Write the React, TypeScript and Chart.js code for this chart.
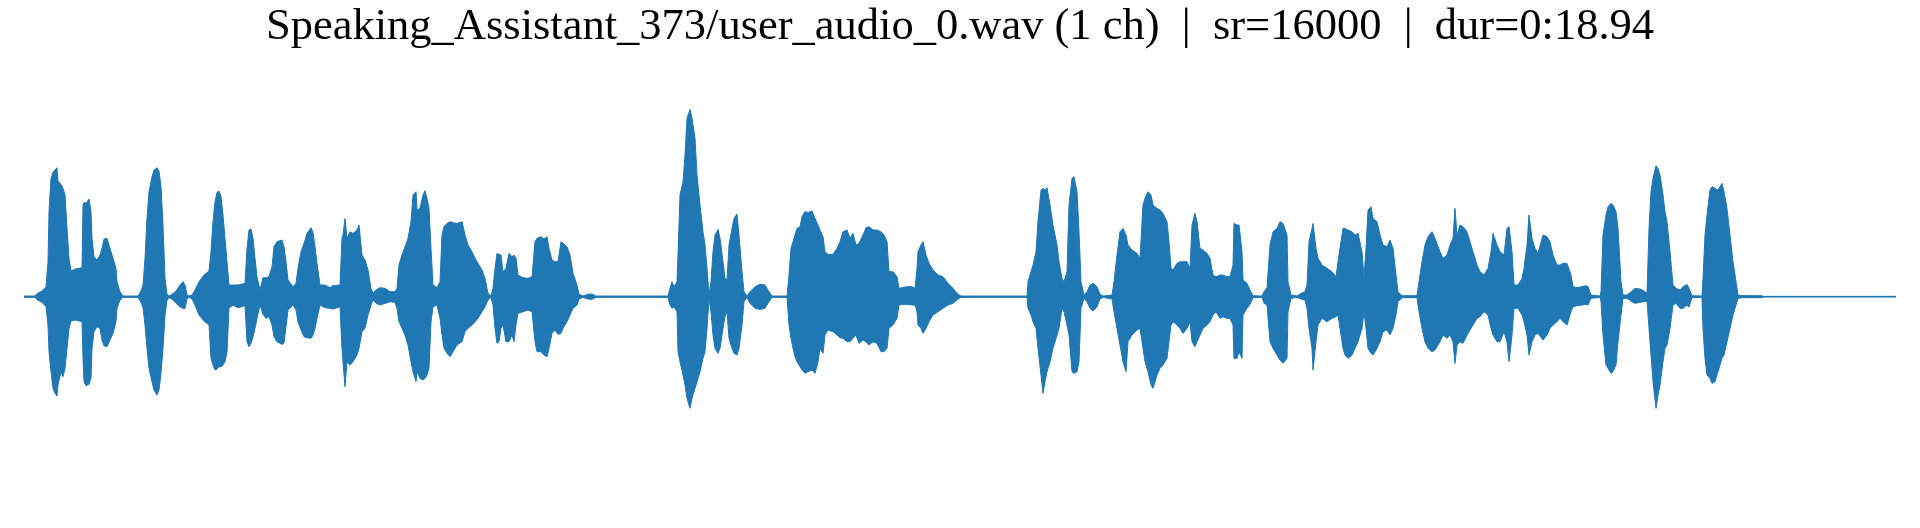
import { useEffect, useRef } from "react";
import { Chart, registerables } from "chart.js";

Chart.register(...registerables);

// Waveform envelope of Speaking_Assistant_373/user_audio_0.wav
// frame index (1 frame ≈ 10.12 ms, 1872 frames = 18.94 s), amplitude in arbitrary units
const TITLE = "Speaking_Assistant_373/user_audio_0.wav (1 ch)  |  sr=16000  |  dur=0:18.94";
const TOTAL_FRAMES = 1872;

const FRAMES = [
  0, 11, 13, 18, 22, 24, 25, 27, 29, 31, 33, 34, 37, 39, 41, 43, 45, 47, 51, 58, 59, 60, 62, 65, 67, 68, 70, 73, 76, 78,
  80, 83, 86, 89, 92, 93, 96, 99, 114, 117, 119, 121, 123, 125, 128, 130, 133, 135, 137, 139, 141, 143, 145, 148, 152,
  156, 159, 161, 163, 165, 168, 171, 175, 180, 185, 187, 189, 191, 193, 195, 197, 199, 201, 203, 205, 209, 214, 221,
  223, 225, 227, 229, 231, 233, 236, 239, 242, 245, 248, 250, 253, 258, 260, 262, 264, 269, 272, 274, 277, 280, 283,
  287, 289, 291, 293, 296, 301, 306,
  309, 316, 318, 319, 321, 323, 326, 329, 333, 335, 338, 341, 344, 347, 349, 352, 356, 361, 366, 371, 373, 375, 378,
  381, 384, 387, 389, 392, 393, 396, 399, 401, 403, 405, 407, 409, 413, 416, 418, 420, 423, 426, 429, 433, 438, 441,
  444, 448, 451, 454, 458, 461, 464, 467, 469, 471, 473, 475, 477, 479, 482, 484, 485, 488, 490, 492, 494, 499, 504,
  508, 511, 513, 517, 520, 523, 525, 528, 531, 534, 537, 539, 543, 546, 549, 553, 555, 559, 564, 568, 572,
  644, 646, 648, 650, 653, 654, 656, 659, 661, 663, 666, 668, 671, 673, 676, 679, 681, 683, 685, 687, 689, 691, 694,
  696, 699, 701, 703, 705, 708, 710, 713, 715, 718, 720, 723, 726, 731, 736, 741, 744, 748, 763, 765, 767, 769, 771,
  773, 776, 778, 781, 784, 788, 791, 794, 796, 799, 801, 804, 809, 813, 816, 819, 823, 826, 829, 832, 835, 839, 842,
  845, 849, 853, 857, 860, 863, 865, 869, 873, 875, 878, 883, 888, 891, 893, 894, 897, 899, 902, 905, 909, 914, 919,
  924, 929, 934, 937,
  1003, 1004, 1007, 1009, 1012, 1014, 1017, 1019, 1021, 1023, 1026, 1029, 1033, 1035, 1038, 1040, 1043, 1045, 1048,
  1050, 1053, 1055, 1057, 1060, 1063, 1066, 1069, 1073, 1076, 1079, 1088, 1090, 1093, 1096, 1099, 1102, 1104, 1108,
  1113, 1116, 1119, 1121, 1124, 1127, 1129, 1133, 1136, 1139, 1143, 1145, 1147, 1149, 1153, 1156, 1159, 1163, 1166,
  1168, 1171, 1173, 1176, 1179, 1183, 1186, 1189, 1192, 1196, 1199, 1203, 1206, 1209, 1210, 1213, 1215, 1218, 1219,
  1223, 1226, 1229, 1238, 1240, 1243, 1246, 1249, 1253, 1256, 1259, 1263, 1264, 1267,
  1273, 1277, 1281, 1283, 1285, 1288, 1289, 1292, 1294, 1298, 1303, 1308, 1312, 1314, 1316, 1319, 1321, 1324, 1328,
  1331, 1334, 1338, 1340, 1342, 1344, 1347, 1349, 1353, 1356, 1359, 1363, 1366, 1369, 1372, 1374, 1378, 1393, 1395,
  1398, 1401, 1404, 1408, 1411, 1416, 1419, 1423, 1426, 1429, 1431, 1433, 1436, 1439, 1443, 1446, 1449, 1453, 1456,
  1460, 1464, 1467, 1469, 1473, 1476, 1480, 1483, 1485, 1488, 1490, 1494, 1498, 1500, 1503, 1505, 1508, 1511, 1514,
  1519, 1523, 1526, 1529, 1533, 1536, 1539, 1543, 1547, 1549, 1553, 1558, 1562, 1564, 1567, 1576,
  1577, 1579, 1582, 1584, 1587, 1589, 1592, 1594, 1597, 1599, 1603, 1608, 1611, 1616, 1620, 1623, 1625, 1627, 1629,
  1632, 1634, 1636, 1639, 1641, 1643, 1646, 1649, 1652, 1656, 1659, 1663, 1665, 1668, 1678, 1679, 1681, 1683, 1686,
  1688, 1691, 1694, 1698, 1700, 1703, 1706, 1709, 1712, 1714, 1718, 1738, 1739, 1872,
];

const UPPER = [
  2, 2, 9, 17, 30, 105, 255, 355, 373, 380, 387, 347, 337, 325, 305, 205, 115, 77, 83, 87, 275, 283, 280, 293, 255, 175,
  120, 110, 125, 145, 173, 175, 145, 115, 85, 45, 15, 2, 2, 17, 35, 115, 235, 315, 360, 380, 387, 377, 330, 215, 55, 7,
  2, 7, 17, 35, 45, 35, 5, 2, 5, 20, 45, 65, 77, 135, 225, 285, 313, 317, 300, 245, 175, 105, 35, 35, 35, 40, 145, 200,
  203, 175, 115, 60, 20, 57, 57, 60, 90, 150, 165, 170, 150, 105, 50, 30, 40, 85, 135, 160, 190, 207, 193, 150, 100,
  35, 35, 27,
  33, 35, 175, 185, 235, 175, 195, 190, 200, 215, 125, 110, 80, 25, 10, 20, 27, 25, 15, 15, 25, 95, 125, 150, 175, 225,
  305, 315, 260, 265, 305, 318, 295, 265, 145, 35, 27, 45, 185, 210, 220, 225, 222, 220, 225, 185, 155, 135, 115, 100,
  80, 55, 10, 2, 25, 85, 130, 127, 125, 75, 85, 115, 130, 120, 125, 115, 65, 57, 55, 60, 165, 175, 180, 173, 180, 145,
  110, 105, 105, 165, 160, 150, 125, 70, 35, 7, 2, 7, 8, 2,
  2, 25, 45, 30, 45, 125, 305, 345, 425, 535, 562, 535, 475, 365, 275, 195, 155, 85, 5, 45, 135, 185, 202, 175, 105, 55,
  50, 155, 205, 235, 248, 185, 75, 15, 2, 15, 30, 37, 35, 20, 2, 2, 65, 145, 165, 185, 205, 210, 240, 255, 253, 257,
  235, 215, 200, 180, 135, 127, 127, 145, 165, 195, 200, 175, 190, 155, 160, 185, 207, 210, 200, 200, 195, 185, 165,
  75, 75, 60, 25, 27, 30, 30, 25, 85, 135, 155, 165, 125, 100, 80, 65, 60, 40, 25, 7, 2,
  2, 45, 75, 95, 135, 225, 320, 325, 320, 327, 275, 215, 155, 105, 55, 45, 75, 275, 355, 360, 315, 195, 45, 5, 15, 35,
  40, 30, 7, 2, 5, 45, 125, 195, 205, 185, 155, 140, 130, 115, 275, 295, 315, 305, 275, 265, 260, 250, 225, 165, 85,
  80, 100, 105, 105, 105, 85, 215, 250, 225, 145, 140, 130, 115, 65, 60, 65, 65, 60, 60, 95, 220, 215, 215, 135, 50,
  40, 20, 3, 2, 15, 27, 155, 195, 205, 225, 220, 185, 45, 5,
  2, 10, 15, 35, 165, 205, 220, 145, 115, 95, 85, 75, 60, 105, 145, 205, 205, 200, 195, 185, 190, 135, 55, 145, 260,
  270, 235, 225, 185, 155, 150, 170, 145, 65, 15, 3, 3, 45, 105, 155, 180, 195, 175, 135, 115, 125, 155, 175, 265, 185,
  215, 210, 195, 165, 135, 95, 75, 65, 85, 135, 190, 155, 135, 125, 205, 210, 135, 35, 35, 55, 85, 155, 245, 175, 145,
  130, 185, 180, 165, 125, 95, 95, 100, 100, 65, 30, 27, 30, 33, 30, 5, 2,
  15, 185, 245, 270, 280, 275, 255, 205, 45, 5, 5, 17, 25, 23, 17, 10, 205, 315, 355, 393, 385, 365, 305, 255, 225,
  135, 35, 25, 20, 30, 37, 25, 3, 2, 55, 185, 245, 320, 330, 325, 320, 340, 315, 265, 185, 105, 45, 5, 3, 3, 1, 1,
];

const LOWER = [
  -2, -2, -9, -17, -30, -85, -165, -225, -275, -290, -298, -265, -225, -240, -215, -155, -95, -73, -70, -75, -185, -255,
  -267, -263, -245, -155, -105, -90, -95, -130, -147, -150, -130, -110, -75, -35, -10, -2, -2, -17, -33, -85, -155,
  -215, -255, -280, -295, -280, -230, -155, -55, -10, -3, -7, -20, -30, -35, -35, -7, -2, -7, -25, -55, -73, -85, -185,
  -205, -220, -217, -210, -210, -205, -195, -165, -35, -25, -33, -27, -135, -150, -140, -120, -95, -65, -25, -53, -65,
  -60, -85, -120, -135, -143, -140, -90, -40, -25, -40, -75, -100, -120, -123, -125, -115, -95, -65, -25, -33, -35,
  -37, -30, -155, -195, -270, -195, -205, -195, -175, -155, -105, -95, -55, -25, -10, -20, -25, -20, -15, -17, -35,
  -75, -95, -115, -145, -195, -225, -255, -225, -245, -250, -245, -235, -215, -75, -30, -25, -65, -115, -155, -170,
  -180, -165, -145, -135, -105, -95, -85, -75, -65, -45, -30, -10, -2, -25, -95, -140, -135, -95, -85, -135, -135,
  -135, -115, -135, -85, -50, -45, -40, -45, -135, -165, -165, -175, -180, -155, -110, -100, -113, -110, -95, -75, -55,
  -35, -25, -7, -2, -7, -8, -2,
  -2, -25, -35, -30, -45, -165, -195, -235, -265, -305, -335, -305, -275, -255, -225, -185, -165, -95, -7, -45, -115,
  -155, -170, -155, -95, -60, -45, -125, -155, -170, -175, -155, -85, -15, -2, -20, -35, -38, -35, -20, -2, -2, -85,
  -125, -155, -180, -195, -210, -220, -230, -225, -220, -230, -195, -155, -170, -115, -100, -105, -115, -123, -125,
  -135, -135, -125, -115, -140, -130, -135, -145, -135, -140, -165, -165, -155, -95, -85, -65, -25, -23, -23, -25, -25,
  -45, -85, -95, -110, -95, -75, -55, -45, -35, -25, -20, -7, -2,
  -2, -35, -55, -75, -95, -155, -235, -290, -255, -225, -195, -155, -115, -95, -35, -45, -85, -115, -225, -230, -225,
  -195, -35, -5, -15, -35, -43, -30, -7, -2, -7, -45, -95, -145, -195, -225, -135, -115, -100, -95, -155, -195, -225,
  -265, -275, -235, -215, -205, -185, -135, -85, -75, -85, -95, -110, -95, -75, -135, -150, -135, -115, -95, -85, -75,
  -55, -45, -65, -60, -65, -65, -85, -185, -185, -165, -185, -55, -35, -23, -3, -2, -20, -25, -135, -155, -175, -190,
  -200, -185, -45, -5,
  -2, -7, -10, -35, -95, -155, -220, -135, -85, -65, -75, -65, -60, -55, -95, -155, -175, -185, -175, -155, -135, -95,
  -45, -95, -155, -170, -175, -155, -135, -105, -100, -115, -95, -55, -15, -3, -3, -45, -95, -135, -155, -165, -160,
  -135, -115, -125, -115, -135, -200, -145, -135, -140, -115, -100, -85, -65, -60, -45, -55, -95, -115, -135, -135,
  -105, -135, -195, -115, -35, -35, -55, -75, -115, -175, -135, -115, -110, -130, -115, -95, -85, -75, -65, -75, -85,
  -45, -30, -27, -25, -23, -25, -5, -2,
  -15, -115, -205, -215, -230, -225, -205, -135, -55, -5, -5, -15, -20, -17, -15, -13, -95, -175, -255, -335, -295,
  -265, -195, -155, -145, -95, -25, -20, -35, -35, -25, -31, -3, -2, -95, -185, -235, -245, -260, -255, -225, -185,
  -175, -135, -95, -55, -25, -5, -3, -3, -1, -1,
];

const Y_MAX = 685;
const Y_MIN = -640;
const WAVE_COLOR = "#1f77b4";

export default function App() {
  const canvasRef = useRef<HTMLCanvasElement | null>(null);

  useEffect(() => {
    const canvas = canvasRef.current;
    if (!canvas) return;
    const upper = FRAMES.map((f, i) => ({ x: f, y: UPPER[i] }));
    const lower = FRAMES.map((f, i) => ({ x: f, y: LOWER[i] }));
    const chart = new Chart(canvas, {
      type: "line",
      data: {
        datasets: [
          {
            label: "max",
            data: upper,
            borderColor: WAVE_COLOR,
            backgroundColor: WAVE_COLOR,
            borderWidth: 1,
            pointRadius: 0,
            tension: 0,
            fill: "+1",
          },
          {
            label: "min",
            data: lower,
            borderColor: WAVE_COLOR,
            backgroundColor: WAVE_COLOR,
            borderWidth: 1,
            pointRadius: 0,
            tension: 0,
            fill: false,
          },
        ],
      },
      options: {
        responsive: false,
        animation: false,
        devicePixelRatio: 1,
        layout: { padding: { left: 24, right: 24, top: 0, bottom: 18 } },
        scales: {
          x: { type: "linear", min: 0, max: TOTAL_FRAMES, display: false },
          y: { type: "linear", min: Y_MIN, max: Y_MAX, display: false },
        },
        plugins: {
          legend: { display: false },
          tooltip: { enabled: false },
          title: {
            display: true,
            text: TITLE,
            color: "#000000",
            font: { family: "'Liberation Serif', 'Times New Roman', serif", size: 44.5, weight: "normal" },
            padding: { top: 1, bottom: 14 },
          },
        },
      },
    });
    return () => chart.destroy();
  }, []);

  return (
    <div style={{ position: "absolute", left: 0, top: 0, width: 1920, height: 528, background: "#ffffff" }}>
      <canvas ref={canvasRef} width={1920} height={528} style={{ display: "block", width: 1920, height: 528 }} />
    </div>
  );
}
